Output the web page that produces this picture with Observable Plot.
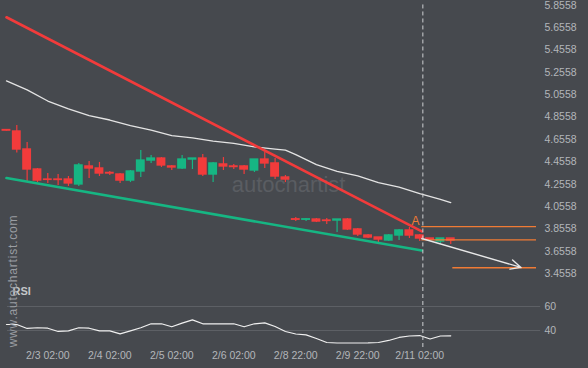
<!DOCTYPE html>
<html><head><meta charset="utf-8">
<script src="https://cdn.jsdelivr.net/npm/d3@7"></script>
<script src="https://cdn.jsdelivr.net/npm/@observablehq/plot@0.6"></script>
<style>
html,body{margin:0;padding:0;background:#46494e;}
#wrap{position:relative;width:588px;height:368px;overflow:hidden;background:#46494e;font-family:"Liberation Sans",Arial,sans-serif;}
#wrap svg{display:block;}
#www{position:absolute;left:13px;top:281px;transform:translate(-50%,-50%) rotate(-90deg);font-size:12px;letter-spacing:0.8px;color:#9a9da2;white-space:nowrap;}
</style></head><body><div id="wrap"></div>
<script>
// ---- data ----
const opens  = [4.740,4.727,4.566,4.387,4.297,4.297,4.297,4.253,4.414,4.396,4.356,4.342,4.288,4.369,4.467,4.485,4.414,4.396,4.476,4.485,4.342,4.432,4.414,4.414,4.378,4.476,4.441,4.315,3.941,3.937,3.939,3.930,3.930,3.939,3.850,3.796,3.778,3.751,3.796,3.841,3.796,3.769,3.742,3.769];
const closes = [4.735,4.566,4.387,4.288,4.294,4.293,4.262,4.423,4.396,4.351,4.351,4.288,4.369,4.467,4.485,4.423,4.405,4.476,4.485,4.342,4.441,4.414,4.409,4.387,4.476,4.441,4.324,4.297,3.937,3.941,3.921,3.926,3.939,3.850,3.805,3.778,3.760,3.796,3.841,3.796,3.769,3.760,3.769,3.751];
const highs  = [4.745,4.781,4.629,4.396,4.351,4.342,4.324,4.441,4.459,4.450,4.369,4.351,4.378,4.557,4.512,4.494,4.423,4.512,4.485,4.521,4.450,4.494,4.432,4.423,4.476,4.539,4.485,4.333,3.957,3.948,3.948,3.948,3.939,3.948,3.859,3.805,3.778,3.805,3.850,3.868,3.805,3.769,3.769,3.769];
const lows   = [4.730,4.535,4.280,4.270,4.261,4.244,4.235,4.235,4.306,4.324,4.333,4.261,4.270,4.315,4.441,4.405,4.378,4.387,4.387,4.324,4.270,4.378,4.387,4.342,4.360,4.396,4.297,4.270,3.921,3.921,3.912,3.894,3.823,3.841,3.787,3.769,3.733,3.742,3.751,3.769,3.742,3.751,3.724,3.715];
const rsi    = [45.0,45.0,41.7,42.3,41.9,39.2,39.7,42.3,41.9,39.7,39.7,37.2,39.7,42.3,45.6,45.6,43.1,46.1,48.9,45.6,45.6,45.6,45.6,43.1,45.6,46.4,43.3,39.2,37.1,36.3,33.3,30.0,29.6,29.6,29.6,29.7,30.0,31.7,34.2,35.4,35.8,32.9,35.4,35.6];
const maIndex = [0,2,4,6,8,10,12,14,16,18,20,22,24,26,27,28,30,32,34,36,38,40,42,43];
const maValue = [5.18,5.10,5.00,4.93,4.87,4.83,4.78,4.74,4.69,4.67,4.64,4.62,4.59,4.57,4.56,4.52,4.43,4.37,4.33,4.27,4.23,4.17,4.12,4.09];
const tickIndex  = [4,10,16,22,28,34,40];
const tickLabels = ["2/3 02:00","2/4 02:00","2/5 02:00","2/6 02:00","2/8 22:00","2/9 22:00","2/11 02:00"];
const priceTicks = [5.8558,5.6558,5.4558,5.2558,5.0558,4.8558,4.6558,4.4558,4.2558,4.0558,3.8558,3.6558,3.4558];
const rsiTicks = [40,60];
const resistance = [{i:0,v:5.75},{i:40.2,v:3.832}];
const support    = [{i:0,v:4.31},{i:40.2,v:3.662}];
const forecast   = [{i1:40.2,v1:3.769,i2:49.8,v2:3.51}];
const levels     = [{v:3.876,from:40.2},{v:3.757,from:40.2},{v:3.507,from:43.2}];
const patternPoint = {i:40.3};
const labelA = [{i:39.6,v:3.921,t:"A"}];

// ---- chart ----
const xDomain = [0.1, 51.3];
const RED = "#f23b3b", GREEN = "#16b683", ORANGE = "#f07b35", TXT = "#b3b6ba";
const candles = opens.map((o,i)=>({i, o, c: closes[i], h: highs[i], l: lows[i]}));
const col = d => d.c >= d.o ? GREEN : RED;
const ma = maIndex.map((i,k)=>({i, v: maValue[k]}));
const rsiData = rsi.map((v,i)=>({i, v}));
const font = '"Liberation Sans", Arial, sans-serif';

const priceChart = Plot.plot({
  width: 588, height: 280, marginLeft: 7, marginRight: 52, marginTop: 0, marginBottom: 0,
  style: {background: "transparent", color: TXT, fontFamily: font, fontSize: "10.5px", overflow: "visible"},
  x: {domain: xDomain, axis: null},
  y: {domain: [3.393, 5.900], axis: null},
  color: {type: "identity"},
  marks: [
    Plot.text(["autochartist"], {x: 27.3, y: 4.245, fill: "#5a5d62", fontSize: 22, text: d => d}),
    Plot.axisY(priceTicks, {anchor: "right", label: null, tickSize: 0, tickPadding: 8, tickFormat: d => d.toFixed(4), fill: TXT}),
    Plot.line(ma, {x: "i", y: "v", stroke: "#e4e4e4", strokeWidth: 1.3}),
    Plot.ruleX(candles, {x: "i", y1: "l", y2: "h", stroke: col, strokeWidth: 1.2}),
    Plot.rect(candles, {x1: d => d.i - 0.43, x2: d => d.i + 0.43, y1: "o", y2: "c", fill: col, insetTop: -0.7, insetBottom: -0.7}),
    Plot.line(resistance, {x: "i", y: "v", stroke: RED, strokeWidth: 2.6}),
    Plot.line(support, {x: "i", y: "v", stroke: GREEN, strokeWidth: 2.6}),
    Plot.ruleY(levels, {y: "v", x1: "from", x2: xDomain[1], stroke: ORANGE, strokeWidth: 1.3}),
    Plot.arrow(forecast, {x1: "i1", y1: "v1", x2: "i2", y2: "v2", stroke: "#e8e8e8", strokeWidth: 1.4, headLength: 12, headAngle: 50}),
    Plot.ruleX([patternPoint], {x: "i", y1: 5.86, y2: 3.393, stroke: "#cfd0d2", strokeWidth: 1, strokeDasharray: "4,3"}),
    Plot.text(labelA, {x: "i", y: "v", text: "t", fill: ORANGE, fontSize: 12})
  ]
});

const rsiChart = Plot.plot({
  width: 588, height: 88, marginLeft: 7, marginRight: 52, marginTop: 0, marginBottom: 20,
  style: {background: "transparent", color: TXT, fontFamily: font, fontSize: "10.5px", overflow: "visible"},
  x: {domain: xDomain, axis: null},
  y: {domain: [25, 81.67], axis: null},
  marks: [
    Plot.ruleY(rsiTicks, {x1: xDomain[0], x2: 51.7, stroke: "#5d6065", strokeWidth: 1}),
    Plot.axisY(rsiTicks, {anchor: "right", label: null, tickSize: 0, tickPadding: 8, fill: TXT}),
    Plot.line(rsiData, {x: "i", y: "v", stroke: "#f0f0f0", strokeWidth: 1.2}),
    Plot.ruleX([patternPoint], {x: "i", y1: 81.67, y2: 23.3, stroke: "#cfd0d2", strokeWidth: 1, strokeDasharray: "4,3"}),
    Plot.axisX(tickIndex, {anchor: "bottom", label: null, tickSize: 0, tickPadding: 3, tickFormat: d => tickLabels[tickIndex.indexOf(d)], fill: TXT}),
    Plot.text(["RSI"], {x: xDomain[0], y: 72.5, text: d => d, dx: 5, textAnchor: "start", fontWeight: "bold", fontSize: 11, fill: "#c4c6c9"})
  ]
});

const wrap = document.getElementById("wrap");
wrap.appendChild(priceChart);
wrap.appendChild(rsiChart);
const w = document.createElement("div");
w.id = "www";
w.textContent = "www.autochartist.com";
wrap.appendChild(w);
</script>
</body></html>
